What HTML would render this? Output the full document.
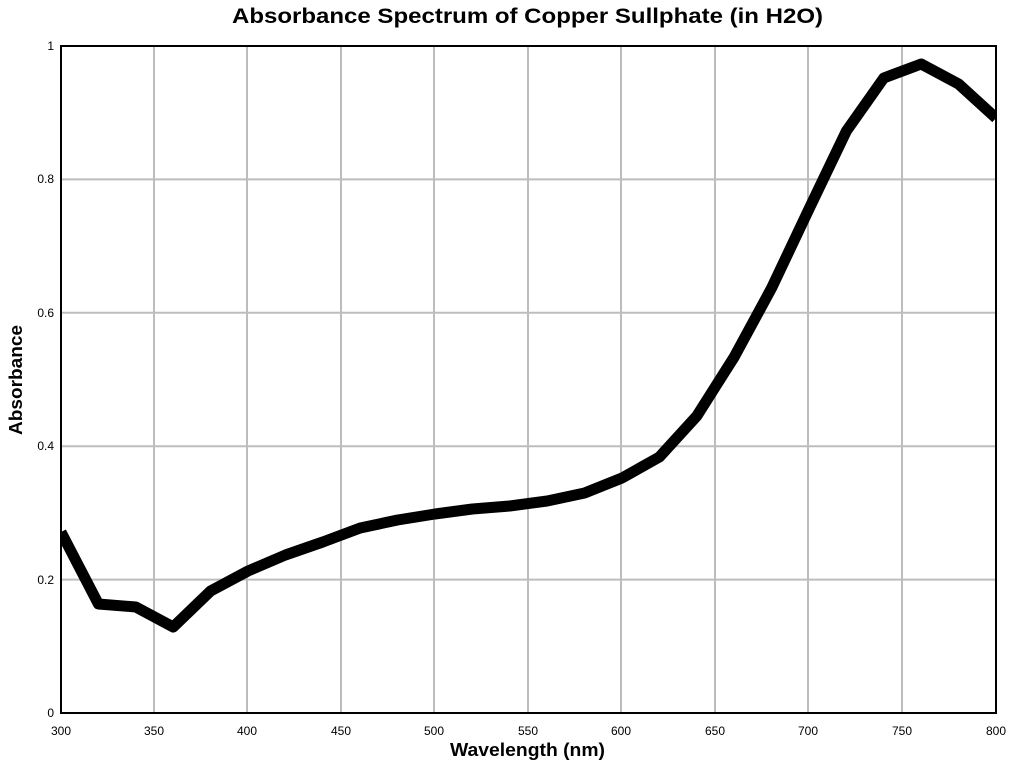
<!DOCTYPE html>
<html><head><style>body{margin:0;background:#fff}</style></head><body>
<svg width="1024" height="768" xmlns="http://www.w3.org/2000/svg" font-family="Liberation Sans, Arial, sans-serif">
<rect width="1024" height="768" fill="#fff"/>
<g stroke="#bdbdbd" stroke-width="2">
<line x1="154" y1="46" x2="154" y2="713"/><line x1="247" y1="46" x2="247" y2="713"/>
<line x1="341" y1="46" x2="341" y2="713"/><line x1="434" y1="46" x2="434" y2="713"/>
<line x1="528" y1="46" x2="528" y2="713"/><line x1="621" y1="46" x2="621" y2="713"/>
<line x1="715" y1="46" x2="715" y2="713"/><line x1="808" y1="46" x2="808" y2="713"/>
<line x1="902" y1="46" x2="902" y2="713"/>
<line x1="61" y1="579.6" x2="996" y2="579.6"/><line x1="61" y1="446.2" x2="996" y2="446.2"/>
<line x1="61" y1="312.8" x2="996" y2="312.8"/><line x1="61" y1="179.4" x2="996" y2="179.4"/>
</g>
<rect x="61" y="46" width="935" height="667" fill="none" stroke="#000" stroke-width="2"/>
<clipPath id="c"><rect x="61" y="46" width="935" height="667"/></clipPath>
<polyline clip-path="url(#c)" fill="none" stroke="#000" stroke-width="11" stroke-linejoin="round" points="61,532 98.4,604 135.8,607 173.2,627 210.6,591 248,571 285.4,555 322.8,542 360.2,528 397.6,520 435,514 472.4,509 509.8,506 547.2,501 584.6,493 622,478 659.4,457 696.8,416 734.2,357 771.6,288 809,209 846.4,131 883.8,78 921.2,64 958.6,84 996,118"/>
<g font-size="12" fill="#000" text-anchor="middle">
<text x="61" y="735">300</text><text x="154" y="735">350</text><text x="247" y="735">400</text>
<text x="341" y="735">450</text><text x="434" y="735">500</text><text x="528" y="735">550</text>
<text x="621" y="735">600</text><text x="715" y="735">650</text><text x="808" y="735">700</text>
<text x="902" y="735">750</text><text x="996" y="735">800</text>
</g>
<g font-size="12" fill="#000" text-anchor="end">
<text x="54" y="717">0</text><text x="54" y="584">0.2</text><text x="54" y="450">0.4</text>
<text x="54" y="317">0.6</text><text x="54" y="183">0.8</text><text x="54" y="50">1</text>
</g>
<text x="450" y="756" font-size="18" font-weight="bold" textLength="155" lengthAdjust="spacingAndGlyphs">Wavelength (nm)</text>
<text transform="translate(22,435) rotate(-90)" font-size="18" font-weight="bold" textLength="110" lengthAdjust="spacingAndGlyphs">Absorbance</text>
<text x="232" y="23" font-size="21" font-weight="bold" textLength="591" lengthAdjust="spacingAndGlyphs">Absorbance Spectrum of Copper Sullphate (in H2O)</text>
</svg>
</body></html>
